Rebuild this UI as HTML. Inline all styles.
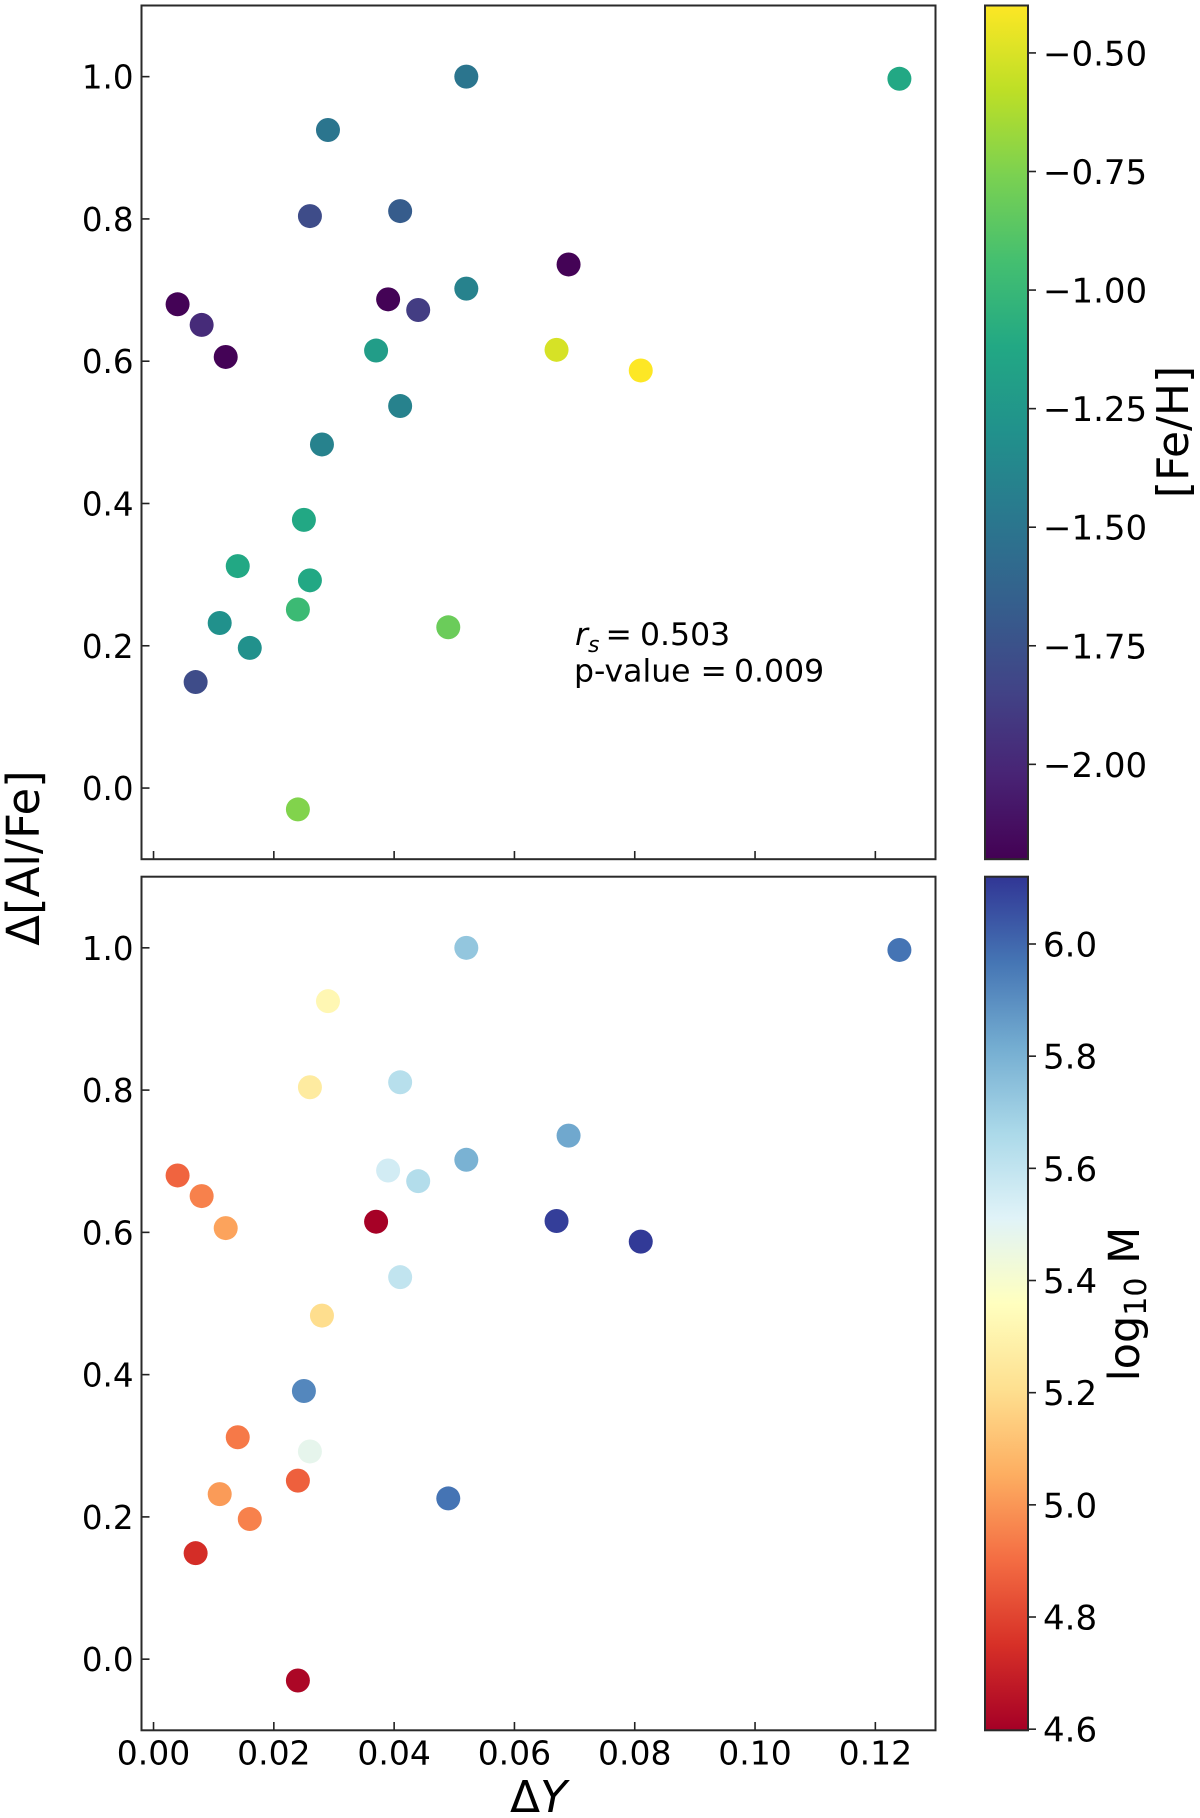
<!DOCTYPE html>
<html lang="en">
<head>
<meta charset="utf-8">
<title>ΔY vs Δ[Al/Fe]</title>
<style>
html,body{margin:0;padding:0;background:#fff;}
svg{display:block;}
text{font-family:"DejaVu Sans","Liberation Sans",sans-serif;fill:#000;}
</style>
</head>
<body>
<svg id="fig" xmlns="http://www.w3.org/2000/svg" width="1200" height="1818" viewBox="0 0 1200 1818">
  <defs>
    <linearGradient id="grad-feh" x1="0" y1="1" x2="0" y2="0"></linearGradient>
    <linearGradient id="grad-mass" x1="0" y1="1" x2="0" y2="0"></linearGradient>
  </defs>
  <rect width="1200" height="1818" fill="#fff"/>
  <g id="marks-top"></g>
  <g id="marks-bottom"></g>
  <g id="ticks"></g>
  <rect x="141.5" y="5.5" width="794" height="853.7" fill="none" stroke="#2a2a2a" stroke-width="2"/>
  <rect x="141.5" y="876.7" width="794" height="853.6" fill="none" stroke="#2a2a2a" stroke-width="2"/>
  <rect x="985" y="5.5" width="43" height="853.7" fill="url(#grad-feh)" stroke="#2a2a2a" stroke-width="2"/>
  <rect x="985" y="876.7" width="43" height="853.6" fill="url(#grad-mass)" stroke="#2a2a2a" stroke-width="2"/>
  <g font-size="31.5">
    <text y="645"><tspan x="575" font-style="italic">r</tspan><tspan font-style="italic" font-size="22" dy="7">s</tspan><tspan x="605.5" dy="-7">=</tspan><tspan x="640">0.503</tspan></text>
    <text y="681.5"><tspan x="574">p-value</tspan><tspan x="700.5">=</tspan><tspan x="734">0.009</tspan></text>
  </g>
  <text font-size="45" text-anchor="middle" transform="translate(39 858) rotate(-90)">Δ[Al/Fe]</text>
  <text font-size="44" text-anchor="middle" x="538.5" y="1812">Δ<tspan font-style="italic">Y</tspan></text>
  <text font-size="44" text-anchor="middle" transform="translate(1188 432) rotate(-90)">[Fe/H]</text>
  <text font-size="43" text-anchor="middle" transform="translate(1139 1304) rotate(-90)">log<tspan font-size="30" dy="7">10</tspan><tspan dy="-7"> M</tspan></text>
</svg>
<script>
// ---- data ----
const deltaY = [0.004,0.008,0.012,0.007,0.011,0.014,0.016,0.024,0.024,0.025,0.026,0.026,0.028,0.029,0.037,0.039,0.041,0.041,0.044,0.049,0.052,0.052,0.067,0.069,0.081,0.124];
const deltaAlFe = [0.680,0.651,0.606,0.149,0.232,0.312,0.197,0.251,-0.030,0.377,0.292,0.804,0.483,0.925,0.615,0.687,0.811,0.537,0.672,0.226,1.000,0.702,0.616,0.736,0.587,0.997];
const feH = [-2.19,-1.98,-2.19,-1.79,-1.30,-1.12,-1.30,-0.98,-0.74,-1.12,-1.12,-1.79,-1.41,-1.50,-1.21,-2.19,-1.68,-1.41,-1.88,-0.81,-1.50,-1.41,-0.51,-2.19,-0.40,-1.12];
const logMass = [4.88,4.95,5.03,4.74,5.01,4.93,4.95,4.87,4.62,5.92,5.48,5.26,5.20,5.32,4.60,5.55,5.63,5.60,5.64,5.97,5.73,5.80,6.10,5.83,6.11,5.97];
const xTickValues = [0,0.02,0.04,0.06,0.08,0.10,0.12];
const xTickLabels = ["0.00","0.02","0.04","0.06","0.08","0.10","0.12"];
const yTickValues = [0,0.2,0.4,0.6,0.8,1.0];
const yTickLabels = ["0.0","0.2","0.4","0.6","0.8","1.0"];
const fehTickValues = [-0.5,-0.75,-1,-1.25,-1.5,-1.75,-2];
const fehTickLabels = ["\u22120.50","\u22120.75","\u22121.00","\u22121.25","\u22121.50","\u22121.75","\u22122.00"];
const massTickValues = [6.0,5.8,5.6,5.4,5.2,5.0,4.8,4.6];
const massTickLabels = ["6.0","5.8","5.6","5.4","5.2","5.0","4.8","4.6"];
const viridisColors = ["#440154","#482475","#414487","#355f8d","#2a788e","#21918c","#22a884","#44bf70","#7ad151","#bddf26","#fde725"];
const rdylbuColors = ["#a50026","#d73027","#f46d43","#fdae61","#fee090","#ffffbf","#e0f3f8","#abd9e9","#74add1","#4575b4","#313695"];

// ---- axis functions ----
const NS = "http://www.w3.org/2000/svg";
const xDomain = [-0.002, 0.13];
const yDomain = [-0.1, 1.1];
const fehDomain = [-2.2, -0.4];
const massDomain = [4.598, 6.12];
function linear(d0, d1, r0, r1) { return v => r0 + (v - d0) / (d1 - d0) * (r1 - r0); }
const xScale = linear(xDomain[0], xDomain[1], 141.5, 935.5);
const yTopScale = linear(yDomain[0], yDomain[1], 859.2, 5.5);
const yBottomScale = linear(yDomain[0], yDomain[1], 1730.3, 876.7);
const fehScale = linear(fehDomain[0], fehDomain[1], 859.2, 5.5);
const massScale = linear(massDomain[0], massDomain[1], 1730.3, 876.7);
function hexToRgb(h) { return [1,3,5].map(i => parseInt(h.substr(i,2),16)); }
function colorAt(cmap, t) {
  t = Math.max(0, Math.min(1, t));
  const p = t * (cmap.length - 1), i = Math.min(Math.floor(p), cmap.length - 2), f = p - i;
  const a = hexToRgb(cmap[i]), b = hexToRgb(cmap[i + 1]);
  return "rgb(" + a.map((c, k) => Math.round(c + (b[k] - c) * f)).join(",") + ")";
}
function fillGradient(id, cmap) {
  const g = document.getElementById(id);
  cmap.forEach((c, i) => {
    const s = document.createElementNS(NS, "stop");
    s.setAttribute("offset", (i / (cmap.length - 1) * 100) + "%");
    s.setAttribute("stop-color", c);
    g.appendChild(s);
  });
}
fillGradient("grad-feh", viridisColors);
fillGradient("grad-mass", rdylbuColors);

function drawPoints(parentId, yScale, values, domain, cmap, name) {
  const parent = document.getElementById(parentId);
  deltaY.forEach((dy, i) => {
    const c = document.createElementNS(NS, "circle");
    c.setAttribute("cx", xScale(dy));
    c.setAttribute("cy", yScale(deltaAlFe[i]));
    c.setAttribute("r", 12);
    c.setAttribute("fill", colorAt(cmap, (values[i] - domain[0]) / (domain[1] - domain[0])));
    
    
    parent.appendChild(c);
  });
}
drawPoints("marks-top", yTopScale, feH, fehDomain, viridisColors, "feh-point");
drawPoints("marks-bottom", yBottomScale, logMass, massDomain, rdylbuColors, "mass-point");

const tickLayer = document.getElementById("ticks");
function tickLine(x1, y1, x2, y2, name) {
  const l = document.createElementNS(NS, "line");
  l.setAttribute("x1", x1);
  l.setAttribute("y1", y1);
  l.setAttribute("x2", x2);
  l.setAttribute("y2", y2);
  l.setAttribute("stroke", "#222");
  l.setAttribute("stroke-width", 1.6);
  
  
  tickLayer.appendChild(l);
}
function tickText(x, y, anchor, size, str, name) {
  const t = document.createElementNS(NS, "text");
  t.setAttribute("x", x);
  t.setAttribute("y", y);
  t.setAttribute("font-size", size);
  t.setAttribute("text-anchor", anchor);
  t.textContent = str;
  
  
  tickLayer.appendChild(t);
}
xTickValues.forEach((v, i) => {
  const x = xScale(v);
  tickLine(x, 859.2, x, 851, "top-x-tick");
  tickLine(x, 1730.3, x, 1722, "bottom-x-tick");
  tickText(x, 1764.5, "middle", 33, xTickLabels[i], "x-tick-label");
});
yTickValues.forEach((v, i) => {
  const yT = yTopScale(v), yB = yBottomScale(v);
  tickLine(141.5, yT, 149.5, yT, "top-y-tick");
  tickLine(141.5, yB, 149.5, yB, "bottom-y-tick");
  tickText(133.5, yT + 12, "end", 32.5, yTickLabels[i], "top-y-tick-label");
  tickText(133.5, yB + 12, "end", 32.5, yTickLabels[i], "bottom-y-tick-label");
});
fehTickValues.forEach((v, i) => {
  const y = fehScale(v);
  tickLine(1028, y, 1036, y, "feh-colorbar-tick");
  tickText(1043, y + 12.5, "start", 34, fehTickLabels[i], "feh-colorbar-tick-label");
});
massTickValues.forEach((v, i) => {
  const y = massScale(v);
  tickLine(1028, y, 1036, y, "mass-colorbar-tick");
  tickText(1043, y + 12.5, "start", 34, massTickLabels[i], "mass-colorbar-tick-label");
});
</script>
</body>
</html>
